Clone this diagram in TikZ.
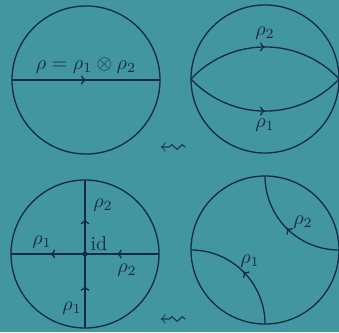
\documentclass[tikz,border=0pt]{standalone}
\usepackage{amssymb}
\usepackage{graphicx}
\usetikzlibrary{arrows.meta,decorations.markings}
\definecolor{bg}{RGB}{66,150,160}
\definecolor{ink}{RGB}{22,42,70}
\begin{document}
\begin{tikzpicture}[x=1pt,y=1pt,
  line/.style={draw=ink, line width=1.3pt},
  midarrow/.style={postaction={decorate}, decoration={markings, mark=at position #1 with {\arrow[ink]{To[length=5pt,width=9pt]}}}},
  midarrow/.default=0.5,
  lab/.style={text=ink, scale=2, inner sep=0pt}]
\fill[bg] (0,0) rectangle (339,332);
\useasboundingbox (0,0) rectangle (339,332);
% top left
\coordinate (c1) at (86,252);
\coordinate (a1) at (12,252);
\coordinate (b1) at (160,252);
\draw[line] (c1) circle[radius=74];
\draw[line, midarrow] (a1) -- (b1);
\node[lab] (l1) at (86,266) {$\rho=\rho_1\otimes\rho_2$};
% top right
\coordinate (c2) at (265,253);
\coordinate (a2) at (191,253);
\coordinate (b2) at (339,253);
\draw[line] (c2) circle[radius=74];
\draw[line, midarrow] (a2) arc[start angle=136.8, end angle=43.2, radius=101.6];
\draw[line, midarrow] (a2) arc[start angle=223.2, end angle=316.8, radius=101.6];
\node[lab] (l2) at (265,299) {$\rho_2$};
\node[lab] (l3) at (265,207) {$\rho_1$};
% bottom left
\coordinate (c3) at (85,78);
\coordinate (W3) at (11,78);
\coordinate (E3) at (159,78);
\coordinate (N3) at (85,152);
\coordinate (S3) at (85,4);
\draw[line] (c3) circle[radius=74];
\draw[line, midarrow=0.57] (E3) -- (c3);
\draw[line, midarrow=0.47] (c3) -- (W3);
\draw[line, midarrow=0.57] (S3) -- (c3);
\draw[line, midarrow=0.47] (c3) -- (N3);
\fill[ink] (c3) circle[radius=2.6];
\node[lab] (l4) at (103,127) {$\rho_2$};
\node[lab] (l5) at (42,90) {$\rho_1$};
\node[lab] (l6) at (99,88) {id};
\node[lab] (l7) at (127,62) {$\rho_2$};
\node[lab] (l8) at (72,24) {$\rho_1$};
% bottom right
\coordinate (c4) at (265,82);
\coordinate (E4) at (339,82);
\coordinate (S4) at (265,8);
\draw[line] (c4) circle[radius=74];
\draw[line, midarrow] (E4) arc[start angle=270, end angle=180, radius=74];
\draw[line, midarrow] (S4) arc[start angle=0, end angle=90, radius=74];
\node[lab] (l9) at (303,110) {$\rho_2$};
\node[lab] (l10) at (250,71) {$\rho_1$};
% squiggly arrows
\node[lab, scale=1.4] (s1) at (173,183) {\reflectbox{$\rightsquigarrow$}};
\node[lab, scale=1.4] (s2) at (173,11) {\reflectbox{$\rightsquigarrow$}};
\end{tikzpicture}
\end{document}
